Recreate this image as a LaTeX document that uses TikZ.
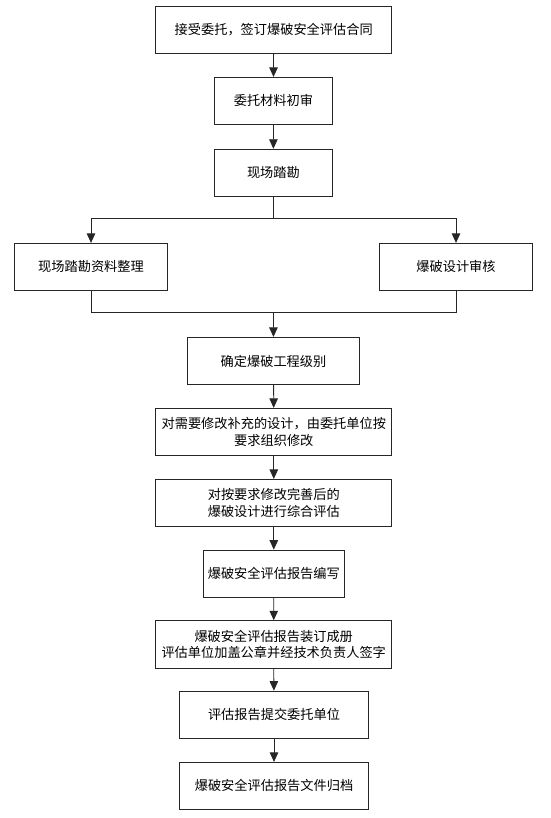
\documentclass[tikz,border=0pt]{standalone}
\usepackage{fontspec}
\newfontfamily\cjk{Noto Sans CJK SC}
\usetikzlibrary{arrows.meta}
\begin{document}
\begin{tikzpicture}[x=1pt,y=-1pt,
  box/.style={draw=black!85, line width=0.8pt, inner sep=0pt, align=center,
    font=\cjk\fontsize{13.2}{16.5}\selectfont, text=black},
  conn/.style={draw=black!85, line width=0.8pt},
  arr/.style={conn, -{Triangle[length=9.5pt,width=8.5pt]}}]
\useasboundingbox (0,0) rectangle (550,818);
\node[box, minimum width=236pt, minimum height=47pt] (b1) at (273.7,29.8) {接受委托，签订爆破安全评估合同};
\node[box, minimum width=118.7pt, minimum height=47pt] (b2) at (273.4,100.8) {委托材料初审};
\node[box, minimum width=118.7pt, minimum height=47pt] (b3) at (273.4,172.7) {现场踏勘};
\node[box, minimum width=153.4pt, minimum height=47pt] (b4) at (91,266.8) {现场踏勘资料整理};
\node[box, minimum width=153.4pt, minimum height=47pt] (b5) at (456,266.8) {爆破设计审核};
\node[box, minimum width=171.6pt, minimum height=47.4pt] (b6) at (273.5,361) {确定爆破工程级别};
\node[box, minimum width=236pt, minimum height=47.4pt] (b7) at (273.8,432) {对需要修改补充的设计，由委托单位按\\要求组织修改};
\node[box, minimum width=236pt, minimum height=46.7pt] (b8) at (273.8,502.7) {对按要求修改完善后的\\爆破设计进行综合评估};
\node[box, minimum width=141pt, minimum height=47.3pt] (b9) at (273.8,573.7) {爆破安全评估报告编写};
\node[box, minimum width=236pt, minimum height=47.3pt] (b10) at (273.7,644.3) {爆破安全评估报告装订成册\\评估单位加盖公章并经技术负责人签字};
\node[box, minimum width=188.6pt, minimum height=47.3pt] (b11) at (274,714.7) {评估报告提交委托单位};
\node[box, minimum width=188.6pt, minimum height=47pt] (b12) at (274,785.8) {爆破安全评估报告文件归档};
\coordinate (sp) at (273.4,218.3);
\coordinate (mg) at (273.4,312.7);
\draw[arr] (b1) -- (b2);
\draw[arr] (b2) -- (b3);
\draw[conn] (b3) -- (sp);
\draw[arr] (sp) -| (b4);
\draw[arr] (sp) -| (b5);
\draw[conn] (b4) |- (mg);
\draw[conn] (b5) |- (mg);
\draw[arr] (mg) -- (b6);
\draw[arr] (b6) -- (b7);
\draw[arr] (b7) -- (b8);
\draw[arr] (b8) -- (b9);
\draw[arr] (b9) -- (b10);
\draw[arr] (b10) -- (b11);
\draw[arr] (b11) -- (b12);
\end{tikzpicture}
\end{document}
